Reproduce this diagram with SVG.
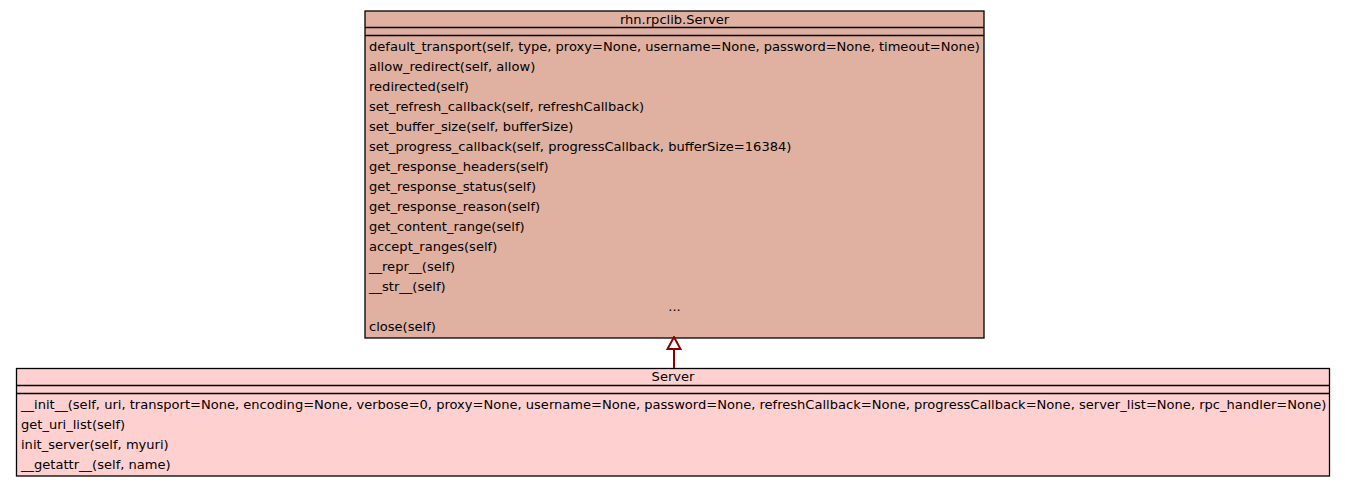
<svg xmlns="http://www.w3.org/2000/svg" width="1345" height="487" viewBox="0 0 1345 487">
<style>
text{font-family:"DejaVu Sans",sans-serif;font-size:13.05px;fill:#000}
.box{stroke:#000;stroke-width:1.3}
.sep{stroke:#000;stroke-width:1.3}
.c{text-anchor:middle}
</style>
<defs>
<marker id="inh" viewBox="0 0 14 16" refX="13" refY="8" markerWidth="14" markerHeight="16" markerUnits="userSpaceOnUse" orient="auto">
<path d="M1,1.5 L13,8 L1,14.5 Z" fill="#fff" stroke="#8b0000" stroke-width="2"/>
</marker>
</defs>
<rect width="1345" height="487" fill="#fff"/>
<g id="rhn.rpclib.Server">
<rect class="box" x="365" y="11" width="619" height="327" fill="#e0b0a0"/>
<line class="sep" x1="365" y1="27.5" x2="984" y2="27.5"/>
<line class="sep" x1="365" y1="35.5" x2="984" y2="35.5"/>
<text class="c" x="674.5" y="24">rhn.rpclib.Server</text>
<text x="369" y="51">default_transport(self, type, proxy=None, username=None, password=None, timeout=None)</text>
<text x="369" y="71">allow_redirect(self, allow)</text>
<text x="369" y="91">redirected(self)</text>
<text x="369" y="111">set_refresh_callback(self, refreshCallback)</text>
<text x="369" y="131">set_buffer_size(self, bufferSize)</text>
<text x="369" y="151">set_progress_callback(self, progressCallback, bufferSize=16384)</text>
<text x="369" y="171">get_response_headers(self)</text>
<text x="369" y="191">get_response_status(self)</text>
<text x="369" y="211">get_response_reason(self)</text>
<text x="369" y="231">get_content_range(self)</text>
<text x="369" y="251">accept_ranges(self)</text>
<text x="369" y="271">__repr__(self)</text>
<text x="369" y="291">__str__(self)</text>
<text class="c" x="674.5" y="311">...</text>
<text x="369" y="331">close(self)</text>
</g>
<g id="Server">
<rect class="box" x="16.5" y="368.5" width="1313" height="107.5" fill="#ffd0d0"/>
<line class="sep" x1="16.5" y1="385.5" x2="1329.5" y2="385.5"/>
<line class="sep" x1="16.5" y1="393.5" x2="1329.5" y2="393.5"/>
<text class="c" x="673" y="381">Server</text>
<text x="21" y="409">__init__(self, uri, transport=None, encoding=None, verbose=0, proxy=None, username=None, password=None, refreshCallback=None, progressCallback=None, server_list=None, rpc_handler=None)</text>
<text x="21" y="429">get_uri_list(self)</text>
<text x="21" y="449">init_server(self, myuri)</text>
<text x="21" y="469">__getattr__(self, name)</text>
</g>
<g id="connectors">
<line x1="674" y1="368" x2="674" y2="337" stroke="#8b0000" stroke-width="2" marker-end="url(#inh)"/>
</g>
</svg>
